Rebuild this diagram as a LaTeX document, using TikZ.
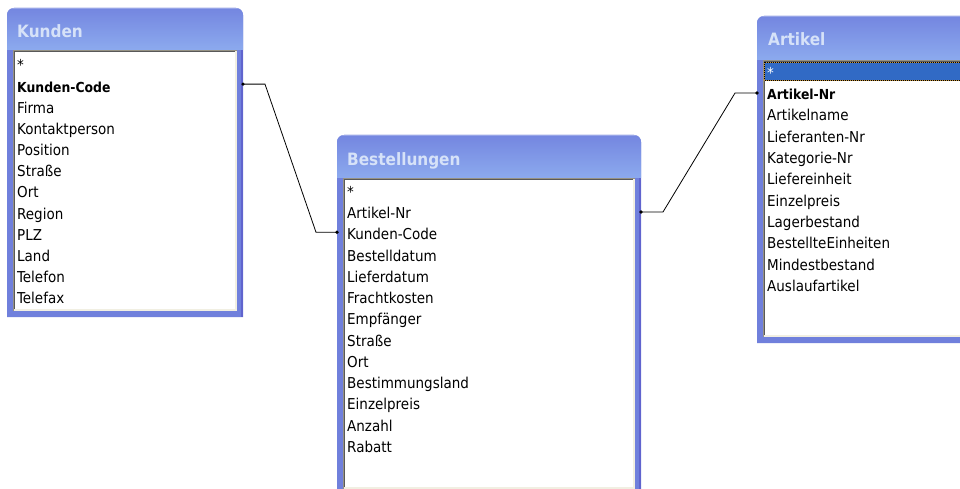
\documentclass[tikz,border=0pt]{standalone}
\usepackage{fontspec}
\setmainfont{DejaVu Sans Condensed}
\usetikzlibrary{calc}

\definecolor{winframe}{RGB}{112,128,220}
\definecolor{frameedge}{RGB}{96,100,206}
\definecolor{titletop}{RGB}{116,134,224}
\definecolor{titlemid}{RGB}{124,146,228}
\definecolor{titlebot}{RGB}{140,170,238}
\definecolor{titletxt}{RGB}{214,226,248}
\definecolor{sunken}{RGB}{150,146,132}
\definecolor{paneledge}{RGB}{241,239,226}
\definecolor{selblue}{RGB}{49,106,197}
\definecolor{focusdot}{RGB}{200,150,60}

% primary-key fields are set a little smaller so that the bold face keeps the row width
\newcommand\keyfield[1]{{\fontsize{13.8}{15}\selectfont\bfseries #1}}

\tikzset{
  field/.style={anchor=west, inner sep=0pt, text height=13pt, text depth=2pt,
                font=\fontsize{15}{15}\selectfont},
  wintitle/.style={anchor=base west, inner sep=0pt, text=titletxt,
                font=\fontsize{17}{17}\selectfont\bfseries},
  winarea/.style={anchor=north west, inner sep=0pt, outer sep=0pt},
  rel/.style={draw=black, line width=0.8pt},
  reldot/.style={fill=black}
}

% #1 x0, #2 y0, #3 x1, #4 y1, #5 top of the field list
\newcommand\dbwindow[5]{%
  \fill[winframe] (#1,-#4) -- (#1,{-#2-7}) arc[start angle=180,end angle=90,radius=7]
     -- ({#3-7},-#2) arc[start angle=90,end angle=0,radius=7] -- (#3,-#4) -- cycle;
  \fill[frameedge] ({#3-2},{-#2-6}) rectangle (#3,-#4);
  \begin{scope}
    \clip (#1,-#5) -- (#1,{-#2-7}) arc[start angle=180,end angle=90,radius=7]
       -- ({#3-7},-#2) arc[start angle=90,end angle=0,radius=7] -- (#3,-#5) -- cycle;
    \shade[top color=titletop, middle color=titlemid, bottom color=titlebot]
       (#1,-#2) rectangle (#3,-#5);
    \fill[white, opacity=0.25] (#1,-#2) rectangle (#3,{-#2-1.5});
  \end{scope}
  \fill[white] ({#1+6},-#5) rectangle ({#3-6},{-#4+6});
  \draw[paneledge, line width=2pt] ({#3-7},-#5) -- ({#3-7},{-#4+7}) -- ({#1+6},{-#4+7});
  \draw[sunken, line width=1pt] ({#1+6.5},{-#4+6}) -- ({#1+6.5},{-#5-0.5}) -- ({#3-6},{-#5-0.5});
  \draw[gray!70!black, line width=0.6pt] ({#1+7.5},{-#4+8}) -- ({#1+7.5},{-#5-1.5}) -- ({#3-8},{-#5-1.5});
}

\begin{document}
\begin{tikzpicture}[x=1pt,y=1pt]
\useasboundingbox (0,0) rectangle (960,-489);
\clip (0,0) rectangle (960,-489);
\fill[white] (0,0) rectangle (960,-489);

% ---- table Kunden ----
\dbwindow{7}{8}{243}{317}{50}
\path node[winarea, minimum width=236pt, minimum height=309pt] (kunden) at (7,-8) {};
\node[wintitle] (kunden-title) at (17,-38) {Kunden};
\foreach \f [count=\i from 0] in {*, {\keyfield{Kunden-Code}}, Firma, Kontaktperson,
    Position, Straße, Ort, Region, PLZ, Land, Telefon, Telefax}
  \node[field] (kunden-\i) at (17,{-65.5-21.15*\i}) {\f};

% ---- table Bestellungen ----
\dbwindow{337}{135}{641}{495}{178}
\path node[winarea, minimum width=304pt, minimum height=360pt] (bestell) at (337,-135) {};
\node[wintitle] (bestell-title) at (347,-166) {Bestellungen};
\foreach \f [count=\i from 0] in {*, Artikel-Nr, Kunden-Code, Bestelldatum, Lieferdatum,
    Frachtkosten, Empfänger, Straße, Ort, Bestimmungsland, Einzelpreis, Anzahl, Rabatt}
  \node[field] (bestell-\i) at (347,{-191.7-21.27*\i}) {\f};

% ---- table Artikel ----
\dbwindow{757}{16}{975}{343}{60}
\path node[winarea, minimum width=218pt, minimum height=327pt] (artikel) at (757,-16) {};
\node[wintitle] (artikel-title) at (768,-46) {Artikel};
% selected first row
\fill[selblue] (764,-62) rectangle (975,-81);
\draw[focusdot, line width=1pt] (764.5,-62.5) rectangle (975,-80.5);
\draw[black, line width=1pt, dash pattern=on 1pt off 1pt] (764.5,-62.5) rectangle (975,-80.5);
\node[field, text=white] (artikel-0) at (767,-72.7) {*};
\foreach \f [count=\i from 1] in {{\keyfield{Artikel-Nr}}, Artikelname, Lieferanten-Nr,
    Kategorie-Nr, Liefereinheit, Einzelpreis, Lagerbestand, BestellteEinheiten,
    Mindestbestand, Auslaufartikel}
  \node[field] (artikel-\i) at (767,{-72.7-21.33*\i}) {\f};

% ---- relationships ----
\coordinate (r1a) at ($(kunden.east |- kunden-1)+(0,2.5)$);
\coordinate (r1b) at ($(bestell.west |- bestell-2)+(0,2)$);
\draw[rel] (r1a) -- ++(22,0) -- ($(r1b)+(-21,0)$) -- (r1b);
\fill[reldot] (r1a) circle (1.8);
\fill[reldot] (r1b) circle (1.8);

\coordinate (r2a) at ($(bestell.east |- bestell-1)+(0,1)$);
\coordinate (r2b) at ($(artikel.west |- artikel-1)+(0,1)$);
\draw[rel] (r2a) -- ++(22,0) -- ($(r2b)+(-22,0)$) -- (r2b);
\fill[reldot] (r2a) circle (1.8);
\fill[reldot] (r2b) circle (1.8);
\end{tikzpicture}
\end{document}
